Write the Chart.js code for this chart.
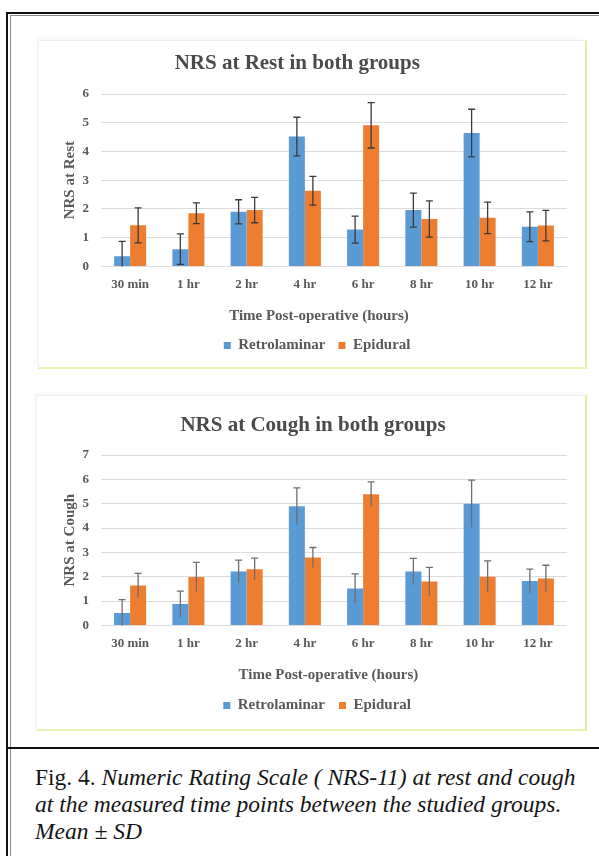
<!DOCTYPE html>
<html>
<head>
<meta charset="utf-8">
<script src="https://cdn.jsdelivr.net/npm/chart.js@4.4.1/dist/chart.umd.min.js"></script>
<style>
  html, body { margin: 0; padding: 0; background: #fff; }
  body { width: 599px; height: 856px; position: relative; overflow: hidden; }
  .rule { position: absolute; }
  .panel { position: absolute; background: #fff; box-sizing: border-box;
           border-left: 1px solid #f0f0f0; border-top: 1px solid #eeeeee;
           border-right: 2px solid #e6ee9e; border-bottom: 2px solid #ecf1b4;
           box-shadow: -2px -2px 4px rgba(0,0,0,0.035); }
  .panel canvas { position: absolute; left: 0; top: 0; }
  .caption { position: absolute; left: 35px; top: 764px; width: 564px; white-space: nowrap;
             font-family: "Liberation Serif", serif; font-size: 23.5px; line-height: 27px;
             color: #141414; }
  .caption i { font-style: italic; }
</style>
</head>
<body>
<!-- double frame on the left and top, rule above the caption -->
<div class="rule" style="left:6px;top:12px;width:600px;height:2px;background:#111;"></div>
<div class="rule" style="left:6px;top:12px;width:2px;height:850px;background:#111;"></div>
<div class="rule" style="left:10px;top:15px;width:600px;height:1px;background:#888;"></div>
<div class="rule" style="left:10px;top:15px;width:1px;height:850px;background:#888;"></div>
<div class="rule" style="left:8px;top:747px;width:600px;height:2px;background:#111;"></div>

<div class="panel" style="left:38px;top:40px;width:549px;height:329px;">
  <canvas id="restChart" width="548" height="328"></canvas>
</div>
<div class="panel" style="left:36px;top:395px;width:551px;height:336px;">
  <canvas id="coughChart" width="550" height="335"></canvas>
</div>

<div class="caption">Fig. 4. <i>Numeric Rating Scale ( NRS-11) at rest and cough</i><br><i>at the measured time points between the studied groups.</i><br><i>Mean ± SD</i></div>

<script>
// Time points after surgery
const categories = ['30 min', '1 hr', '2 hr', '4 hr', '6 hr', '8 hr', '10 hr', '12 hr'];
const seriesNames = ['Retrolaminar', 'Epidural'];

// NRS at rest: mean and SD per group
const restRetrolaminar   = [0.35, 0.60, 1.90, 4.52, 1.28, 1.96, 4.64, 1.38];
const restRetrolaminarSD = [0.52, 0.53, 0.42, 0.67, 0.47, 0.59, 0.83, 0.52];
const restEpidural       = [1.43, 1.85, 1.96, 2.63, 4.91, 1.65, 1.69, 1.42];
const restEpiduralSD     = [0.61, 0.36, 0.44, 0.50, 0.79, 0.63, 0.55, 0.53];

// NRS at cough: mean and SD per group
const coughRetrolaminar   = [0.51, 0.88, 2.21, 4.89, 1.52, 2.21, 5.00, 1.82];
const coughRetrolaminarSD = [0.55, 0.53, 0.47, 0.76, 0.60, 0.54, 0.97, 0.49];
const coughEpidural       = [1.64, 1.99, 2.31, 2.79, 5.39, 1.80, 2.00, 1.93];
const coughEpiduralSD     = [0.50, 0.60, 0.45, 0.41, 0.51, 0.58, 0.65, 0.54];

const BLUE = '#5b9bd5';
const ORANGE = '#ed7d31';
const TEXT = '#595959';
const SERIF = '"Liberation Serif", "Times New Roman", serif';
const EN = '\u2002';

Chart.defaults.font.family = SERIF;
Chart.defaults.font.weight = 'bold';

// Draws mean ± SD whiskers on top of each bar
const errorBars = {
  id: 'errorBars',
  afterDatasetsDraw(chart, args, opts) {
    const { ctx, chartArea } = chart;
    const yScale = chart.scales.y;
    ctx.save();
    ctx.beginPath();
    ctx.rect(chartArea.left, chartArea.top - 20, chartArea.right - chartArea.left, chartArea.bottom - chartArea.top + 20);
    ctx.clip();
    ctx.strokeStyle = opts.color;
    ctx.lineWidth = opts.width;
    chart.data.datasets.forEach((ds, di) => {
      const meta = chart.getDatasetMeta(di);
      if (meta.hidden) return;
      meta.data.forEach((bar, i) => {
        const m = ds.data[i], sd = ds.sd[i];
        const x = bar.x;
        const yTop = yScale.getPixelForValue(m + sd);
        const yBot = yScale.getPixelForValue(m - sd);
        const c = opts.cap;
        ctx.beginPath();
        ctx.moveTo(x, yTop); ctx.lineTo(x, yBot);
        ctx.moveTo(x - c, yTop); ctx.lineTo(x + c, yTop);
        if (opts.bottomCap) { ctx.moveTo(x - c, yBot); ctx.lineTo(x + c, yBot); }
        ctx.stroke();
      });
    });
    ctx.restore();
  }
};

function makeChart(id, cfg) {
  return new Chart(document.getElementById(id), {
    type: 'bar',
    data: {
      labels: categories,
      datasets: [
        { label: seriesNames[0], data: cfg.a, sd: cfg.aSD, backgroundColor: BLUE, borderWidth: 0 },
        { label: cfg.lastLabel, data: cfg.b, sd: cfg.bSD, backgroundColor: ORANGE, borderWidth: 0 }
      ]
    },
    options: {
      responsive: false,
      animation: false,
      devicePixelRatio: 1,
      layout: { padding: { left: 0, right: 20, top: 0, bottom: cfg.padBottom } },
      datasets: { bar: { categoryPercentage: 0.55, barPercentage: 1.0 } },
      plugins: {
        title: {
          display: true, text: cfg.title, fullSize: false, color: '#4a4a4a',
          font: { family: SERIF, size: 21, weight: 'bold' },
          padding: { top: cfg.titleTop, bottom: cfg.titleBottom }
        },
        legend: {
          position: 'bottom', fullSize: false,
          labels: { color: TEXT, boxWidth: 7, boxHeight: 7, padding: cfg.legendPad,
                    font: { family: SERIF, size: 15, weight: 'bold' } }
        },
        tooltip: { enabled: false },
        errorBars: cfg.err
      },
      scales: {
        x: {
          grid: { display: false, drawTicks: false },
          border: { display: false },
          ticks: { color: TEXT, padding: 10, font: { family: SERIF, size: 13, weight: 'bold' } },
          title: { display: true, text: cfg.xTitle, color: TEXT,
                   font: { family: SERIF, size: 15, weight: 'bold' }, padding: { top: 5, bottom: 0 } }
        },
        y: {
          min: 0, max: cfg.yMax,
          afterFit(scale) { scale.width = cfg.yWidth; },
          grid: { color: '#dcdcdc', drawTicks: false, lineWidth: 1 },
          border: { display: false },
          ticks: { stepSize: 1, color: TEXT, padding: 12, font: { family: SERIF, size: 13, weight: 'bold' } },
          title: { display: true, text: cfg.yTitle, color: TEXT,
                   font: { family: SERIF, size: 15, weight: 'bold' }, padding: { top: cfg.yTitlePad, bottom: 0 } }
        }
      }
    },
    plugins: [errorBars]
  });
}

makeChart('restChart', {
  title: 'NRS at Rest in both groups' + EN.repeat(7),
  yTitle: 'NRS at Rest',
  xTitle: 'Time Post-operative (hours)' + EN.repeat(4),
  lastLabel: seriesNames[1] + EN.repeat(4) + ' ',
  a: restRetrolaminar, aSD: restRetrolaminarSD, b: restEpidural, bSD: restEpiduralSD,
  yMax: 6, yWidth: 62, yTitlePad: 22,
  titleTop: 10.4, titleBottom: 17.4, padBottom: 6, legendPad: 13,
  err: { color: '#3a3a3a', width: 1.3, cap: 3.5, bottomCap: true }
});

makeChart('coughChart', {
  title: 'NRS at Cough in both groups' + EN.repeat(4),
  yTitle: 'NRS at Cough',
  xTitle: 'Time Post-operative (hours)' + EN + ' ',
  lastLabel: seriesNames[1] + EN.repeat(4) + ' ',
  a: coughRetrolaminar, aSD: coughRetrolaminarSD, b: coughEpidural, bSD: coughEpiduralSD,
  yMax: 7, yWidth: 64, yTitlePad: 24,
  titleTop: 17.4, titleBottom: 16.4, padBottom: 8, legendPad: 14,
  err: { color: '#6e6e6e', width: 1.3, cap: 3.5, bottomCap: false }
});
</script>
</body>
</html>
